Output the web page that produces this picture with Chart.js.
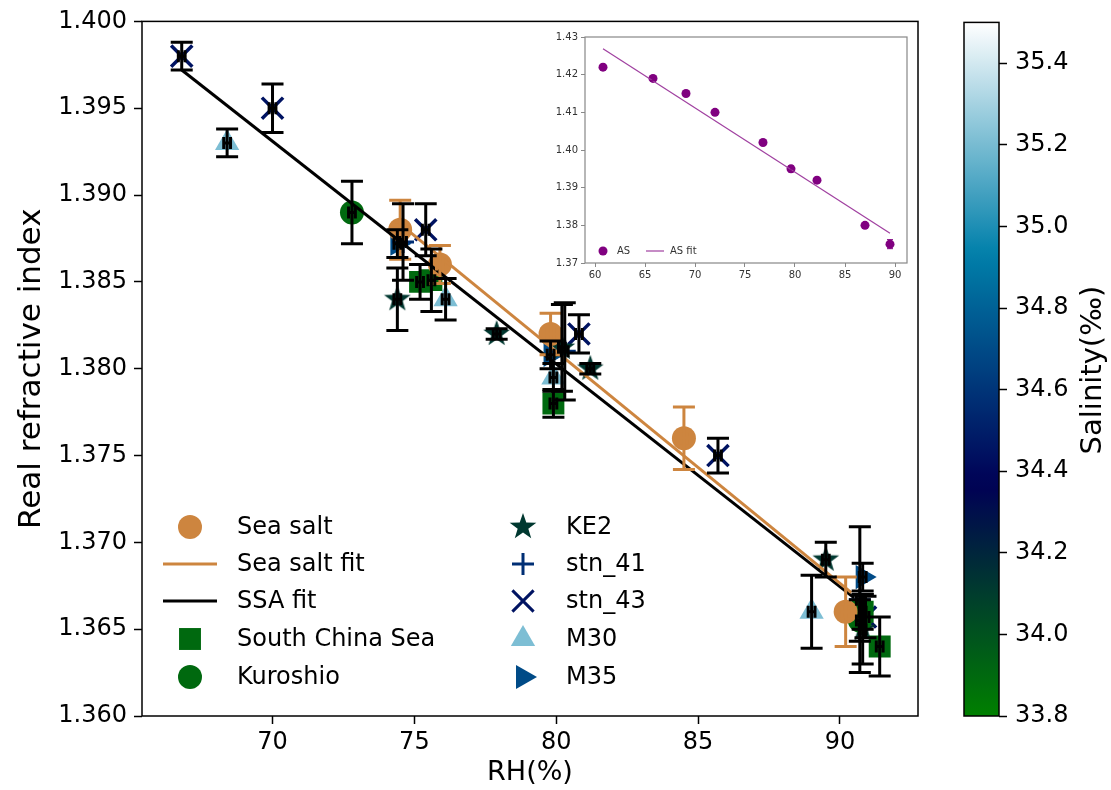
<!DOCTYPE html>
<html>
<head>
<meta charset="utf-8">
<script src="https://cdn.jsdelivr.net/npm/chart.js@4.4.0/dist/chart.umd.min.js"></script>
<style>
  body { margin: 0; background: #fff; }
  #wrap { position: relative; width: 1111px; height: 790px; }
  #wrap canvas { position: absolute; }
</style>
</head>
<body>
<div id="wrap">
  <canvas id="main" width="1111" height="790" style="left:0;top:0;width:1111px;height:790px"></canvas>
  <canvas id="inset" width="372" height="262" style="left:540px;top:28px;width:372px;height:262px"></canvas>
  <canvas id="cbar" width="171" height="790" style="left:940px;top:0;width:171px;height:790px"></canvas>
</div>
<script>
// ---- main plot data ----
const xTicks = [70, 75, 80, 85, 90];
const yTicks = [1.360, 1.365, 1.370, 1.375, 1.380, 1.385, 1.390, 1.395, 1.400];
const RH_ERR = 0.12;

const seaSaltRH  = [74.5, 75.9, 79.8, 84.5, 90.2];
const seaSaltN   = [1.3880, 1.3860, 1.3820, 1.3760, 1.3660];
const seaSaltErr = [0.0017, 0.0011, 0.0012, 0.0018, 0.0020];

const seaSaltFitRH = [74.6, 90.4];
const seaSaltFitN  = [1.3882, 1.3671];
const ssaFitRH = [66.8, 90.5];
const ssaFitN  = [1.3972, 1.3668];

const scsRH  = [75.2, 75.6, 79.9, 90.8, 91.4];
const scsN   = [1.3850, 1.3851, 1.3780, 1.3660, 1.3640];
const scsErr = [0.0010, 0.0018, 0.0008, 0.0010, 0.0017];

const kuroRH  = [72.8, 90.7];
const kuroN   = [1.3890, 1.3655];
const kuroErr = [0.0018, 0.0012];

const ke2RH  = [74.4, 77.9, 81.2, 89.5, 80.2, 90.8];
const ke2N   = [1.3840, 1.3820, 1.3800, 1.3690, 1.3812, 1.3650];
const ke2Err = [0.0018, 0.0003, 0.0003, 0.0010, 0.0025, 0.0020];

const stn41RH  = [74.6, 80.3, 90.7];
const stn41N   = [1.3873, 1.3810, 1.3667];
const stn41Err = [0.0022, 0.0028, 0.0042];

const stn43RH  = [66.8, 70.0, 75.4, 80.8, 85.7, 90.9];
const stn43N   = [1.3980, 1.3950, 1.3880, 1.3820, 1.3750, 1.3657];
const stn43Err = [0.0008, 0.0014, 0.0015, 0.0011, 0.0010, 0.0012];

const m30RH  = [68.4, 76.1, 79.9, 89.0];
const m30N   = [1.3930, 1.3840, 1.3795, 1.3660];
const m30Err = [0.0008, 0.0012, 0.0008, 0.0021];

const m35RH  = [74.4, 79.8, 90.8];
const m35N   = [1.3872, 1.3808, 1.3680];
const m35Err = [0.0008, 0.0008, 0.0008];

// salinity of each cruise, used for the marker colour (ocean colormap)
const salinity = { scs: 33.9, kuro: 33.9, ke2: 34.12, stn41: 34.57, stn43: 34.45, m30: 35.21, m35: 34.7 };
const cbTicks = [33.8, 34.0, 34.2, 34.4, 34.6, 34.8, 35.0, 35.2, 35.4];
const SAL_MIN = 33.8, SAL_MAX = 35.5;

// ---- inset data ----
const asRH  = [60.8, 65.8, 69.1, 72.0, 76.8, 79.6, 82.2, 87.0, 89.5];
const asN   = [1.422, 1.419, 1.415, 1.410, 1.402, 1.395, 1.392, 1.380, 1.375];
const asErr = [0.0007, 0.0005, 0.0008, 0.0006, 0.0006, 0.0008, 0.0006, 0.0004, 0.0012];
const asFitRH = [60.8, 89.5];
const asFitN  = [1.4269, 1.3779];
const insetXTicks = [60, 65, 70, 75, 80, 85, 90];
const insetYTicks = [1.37, 1.38, 1.39, 1.40, 1.41, 1.42, 1.43];

const FONT = 'DejaVu Sans';

// matplotlib "ocean" colormap
const ocean = (t) => {
    const c = v => Math.round(Math.max(0, Math.min(1, v)) * 255);
    return `rgb(${c(3 * t - 2)},${c(Math.abs((3 * t - 1) / 2))},${c(t)})`;
};
const salColor = s => ocean((s - SAL_MIN) / (SAL_MAX - SAL_MIN));

const makeStar = (color, size) => {
    const c = document.createElement('canvas');
    c.width = c.height = size;
    const g = c.getContext('2d');
    const R = size / 2, r = R * 0.4;
    g.beginPath();
    for (let i = 0; i < 10; i++) {
        const a = -Math.PI / 2 + i * Math.PI / 5;
        const rr = i % 2 === 0 ? R : r;
        g.lineTo(R + rr * Math.cos(a), R + rr * Math.sin(a));
    }
    g.closePath();
    g.fillStyle = color;
    g.fill();
    return c;
};

const pts = (xs, ys) => xs.map((x, i) => ({ x: x, y: ys[i] }));

const scatterSet = (label, xs, ys, errs, color, style, extra) => Object.assign({
    label: label,
    data: pts(xs, ys),
    errY: errs,
    errColor: '#000',
    pointStyle: style,
    pointRadius: 12,
    backgroundColor: color,
    borderColor: color,
    pointBorderWidth: 0,
    showLine: false,
    order: 1
}, extra || {});

const SEA = '#cd853f';
const datasets = [
    scatterSet('Sea salt', seaSaltRH, seaSaltN, seaSaltErr, SEA, 'circle', { errColor: SEA, pointRadius: 12 }),
    { label: 'Sea salt fit', type: 'line', data: pts(seaSaltFitRH, seaSaltFitN), borderColor: SEA, borderWidth: 3, pointRadius: 0, order: 0 },
    { label: 'SSA fit', type: 'line', data: pts(ssaFitRH, ssaFitN), borderColor: '#000', borderWidth: 3, pointRadius: 0, order: 0 },
    scatterSet('South China Sea', scsRH, scsN, scsErr, salColor(salinity.scs), 'rect', { pointRadius: 15.5 }),
    scatterSet('Kuroshio', kuroRH, kuroN, kuroErr, salColor(salinity.kuro), 'circle', { pointRadius: 12 }),
    scatterSet('KE2', ke2RH, ke2N, ke2Err, salColor(salinity.ke2), makeStar(salColor(salinity.ke2), 28)),
    scatterSet('stn_41', stn41RH, stn41N, stn41Err, salColor(salinity.stn41), 'cross', { pointRadius: 11, pointBorderWidth: 3 }),
    scatterSet('stn_43', stn43RH, stn43N, stn43Err, salColor(salinity.stn43), 'crossRot', { pointRadius: 15, pointBorderWidth: 3.5 }),
    scatterSet('M30', m30RH, m30N, m30Err, salColor(salinity.m30), 'triangle', { pointRadius: 14 }),
    scatterSet('M35', m35RH, m35N, m35Err, salColor(salinity.m35), 'triangle', { pointRadius: 14, pointRotation: 90 })
];

const drawMarker = (ctx, ds, x, y, radius) => {
    ctx.save();
    ctx.fillStyle = ds.backgroundColor;
    ctx.strokeStyle = ds.borderColor;
    const opts = { pointStyle: ds.pointStyle, radius: radius || ds.pointRadius, rotation: ds.pointRotation || 0, borderWidth: ds.pointBorderWidth || 0 };
    Chart.helpers.drawPoint(ctx, opts, x, y);
    ctx.restore();
};

/**
 * 誤差棒（縦・横）を描くプラグイン
 */
const errorBarPlugin = {
    id: 'errorBars',
    afterDatasetsDraw: (chart) => {
        const ctx = chart.ctx;
        const xs = chart.scales.x, ys = chart.scales.y;
        const cap = chart.options.plugins.errorBars;
        ctx.save();
        chart.data.datasets.forEach((ds) => {
            if (!ds.errY) return;
            ctx.strokeStyle = ds.errColor;
            ctx.lineWidth = cap.lineWidth;
            ds.data.forEach((p, i) => {
                const px = xs.getPixelForValue(p.x);
                const py = ys.getPixelForValue(p.y);
                const top = ys.getPixelForValue(p.y + ds.errY[i]);
                const bot = ys.getPixelForValue(p.y - ds.errY[i]);
                const lx = xs.getPixelForValue(p.x - cap.xErr);
                const rx = xs.getPixelForValue(p.x + cap.xErr);
                ctx.beginPath();
                ctx.moveTo(px, top); ctx.lineTo(px, bot);
                ctx.moveTo(px - cap.w, top); ctx.lineTo(px + cap.w, top);
                ctx.moveTo(px - cap.w, bot); ctx.lineTo(px + cap.w, bot);
                ctx.moveTo(lx, py); ctx.lineTo(rx, py);
                ctx.moveTo(lx, py - cap.h); ctx.lineTo(lx, py + cap.h);
                ctx.moveTo(rx, py - cap.h); ctx.lineTo(rx, py + cap.h);
                ctx.stroke();
            });
        });
        ctx.restore();
    }
};

const framePlugin = {
    id: 'frame',
    afterDraw: (chart) => {
        const a = chart.chartArea, ctx = chart.ctx;
        const o = chart.options.plugins.frame;
        ctx.save();
        ctx.strokeStyle = o.color;
        ctx.lineWidth = o.width;
        ctx.strokeRect(a.left, a.top, a.right - a.left, a.bottom - a.top);
        ctx.restore();
    }
};

const whiteBg = {
    id: 'whiteBg',
    beforeDraw: (chart) => {
        const ctx = chart.ctx;
        ctx.save();
        ctx.fillStyle = '#fff';
        ctx.fillRect(0, 0, chart.width, chart.height);
        ctx.restore();
    }
};

// 2 列の凡例
const legendLeft = ['Sea salt', 'Sea salt fit', 'SSA fit', 'South China Sea', 'Kuroshio'];
const legendRight = ['KE2', 'stn_41', 'stn_43', 'M30', 'M35'];
const legendPlugin = {
    id: 'twoColLegend',
    afterDraw: (chart) => {
        const ctx = chart.ctx;
        const cols = [{ names: legendLeft, mx: 190, tx: 237 }, { names: legendRight, mx: 523, tx: 566 }];
        const rows = [527, 564, 601, 639, 677];
        ctx.save();
        ctx.font = `24px "${FONT}"`;
        ctx.textBaseline = 'middle';
        ctx.fillStyle = '#000';
        cols.forEach(col => {
            col.names.forEach((name, r) => {
                const ds = chart.data.datasets.find(d => d.label === name);
                const y = rows[r];
                if (ds.type === 'line') {
                    ctx.strokeStyle = ds.borderColor;
                    ctx.lineWidth = 3;
                    ctx.beginPath();
                    ctx.moveTo(col.mx - 27, y); ctx.lineTo(col.mx + 27, y);
                    ctx.stroke();
                } else {
                    drawMarker(ctx, ds, col.mx, y, ds.pointRadius);
                }
                ctx.fillStyle = '#000';
                ctx.fillText(name, col.tx, y + 1);
            });
        });
        ctx.restore();
    }
};

new Chart(document.getElementById('main').getContext('2d'), {
    type: 'scatter',
    data: { datasets: datasets },
    plugins: [whiteBg, errorBarPlugin, framePlugin, legendPlugin],
    options: {
        responsive: false,
        animation: false,
        events: [],
        layout: { padding: { left: 0, right: 193, top: 21, bottom: 0 } },
        plugins: {
            legend: { display: false },
            tooltip: { enabled: false },
            errorBars: { lineWidth: 3, w: 11, h: 6, xErr: RH_ERR },
            frame: { color: '#000', width: 1.5 }
        },
        scales: {
            x: {
                type: 'linear', min: 65.4, max: 92.75,
                afterFit: s => { s.height = 74; },
                afterBuildTicks: s => { s.ticks = xTicks.map(v => ({ value: v })); },
                ticks: { font: { family: FONT, size: 24 }, color: '#000', padding: 4, maxRotation: 0 },
                grid: { drawOnChartArea: false, tickLength: 8, color: '#000', tickWidth: 1.5 },
                border: { display: false },
                title: { display: true, text: 'RH(%)', font: { family: FONT, size: 27 }, color: '#000', padding: { top: 0, bottom: 1 } }
            },
            y: {
                type: 'linear', min: 1.36, max: 1.40,
                afterFit: s => { s.width = 142; },
                afterBuildTicks: s => { s.ticks = yTicks.map(v => ({ value: v })); },
                ticks: { font: { family: FONT, size: 24 }, color: '#000', padding: 7, callback: v => v.toFixed(3) },
                grid: { drawOnChartArea: false, tickLength: 8, color: '#000', tickWidth: 1.5 },
                border: { display: false },
                title: { display: true, text: 'Real refractive index', font: { family: FONT, size: 31 }, color: '#000', padding: { top: 13, bottom: 0 } }
            }
        }
    }
});

// ---- inset ----
const PURPLE = '#800080';
const insetLegend = {
    id: 'insetLegend',
    afterDraw: (chart) => {
        const ctx = chart.ctx;
        const y = 223;
        ctx.save();
        ctx.fillStyle = PURPLE;
        ctx.beginPath();
        ctx.arc(63, y, 4.5, 0, Math.PI * 2);
        ctx.fill();
        ctx.font = `10px "${FONT}"`;
        ctx.textBaseline = 'middle';
        ctx.fillStyle = '#333';
        ctx.fillText('AS', 77, y);
        ctx.strokeStyle = '#a040a0';
        ctx.lineWidth = 1.2;
        ctx.beginPath();
        ctx.moveTo(106, y); ctx.lineTo(124, y);
        ctx.stroke();
        ctx.fillText('AS fit', 130, y);
        ctx.restore();
    }
};

new Chart(document.getElementById('inset').getContext('2d'), {
    type: 'scatter',
    data: {
        datasets: [
            { label: 'AS', data: pts(asRH, asN), errY: asErr, errColor: PURPLE, pointStyle: 'circle', pointRadius: 4.5, backgroundColor: PURPLE, borderColor: PURPLE, pointBorderWidth: 0, order: 1 },
            { label: 'AS fit', type: 'line', data: pts(asFitRH, asFitN), borderColor: '#a040a0', borderWidth: 1.2, pointRadius: 0, order: 0 }
        ]
    },
    plugins: [whiteBg, errorBarPlugin, framePlugin, insetLegend],
    options: {
        responsive: false,
        animation: false,
        events: [],
        layout: { padding: { left: 0, right: 5, top: 7, bottom: 0 } },
        plugins: {
            legend: { display: false },
            tooltip: { enabled: false },
            errorBars: { lineWidth: 1, w: 3, h: 0, xErr: 0 },
            frame: { color: '#888', width: 1.2 }
        },
        scales: {
            x: {
                type: 'linear', min: 59, max: 91.2,
                afterFit: s => { s.height = 27; },
                afterBuildTicks: s => { s.ticks = insetXTicks.map(v => ({ value: v })); },
                ticks: { font: { family: FONT, size: 10 }, color: '#333', padding: 2, maxRotation: 0 },
                grid: { drawOnChartArea: false, tickLength: 4, color: '#888' },
                border: { display: false }
            },
            y: {
                type: 'linear', min: 1.37, max: 1.43,
                afterFit: s => { s.width = 45; },
                afterBuildTicks: s => { s.ticks = insetYTicks.map(v => ({ value: v })); },
                ticks: { font: { family: FONT, size: 10 }, color: '#333', padding: 3, callback: v => v.toFixed(2) },
                grid: { drawOnChartArea: false, tickLength: 4, color: '#888' },
                border: { display: false }
            }
        }
    }
});

// ---- colour bar ----
const colorbarPlugin = {
    id: 'colorbar',
    beforeDatasetsDraw: (chart) => {
        const ctx = chart.ctx, a = chart.chartArea, ys = chart.scales.y;
        const y0 = ys.getPixelForValue(SAL_MIN), y1 = ys.getPixelForValue(SAL_MAX);
        const grad = ctx.createLinearGradient(0, y0, 0, y1);
        for (let i = 0; i <= 40; i++) grad.addColorStop(i / 40, ocean(i / 40));
        ctx.save();
        ctx.fillStyle = grad;
        ctx.fillRect(a.left, y1, a.right - a.left, y0 - y1);
        ctx.restore();
    },
    afterDraw: (chart) => {
        const ctx = chart.ctx;
        ctx.save();
        ctx.translate(153, 370);
        ctx.rotate(-Math.PI / 2);
        ctx.font = `29px "${FONT}"`;
        ctx.fillStyle = '#000';
        ctx.textAlign = 'center';
        ctx.textBaseline = 'middle';
        ctx.fillText('Salinity(‰)', 0, 0);
        ctx.restore();
    }
};

new Chart(document.getElementById('cbar').getContext('2d'), {
    type: 'scatter',
    data: { datasets: [] },
    plugins: [colorbarPlugin, framePlugin],
    options: {
        responsive: false,
        animation: false,
        events: [],
        layout: { padding: { left: 24, right: 0, top: 21, bottom: 74 } },
        plugins: {
            legend: { display: false },
            tooltip: { enabled: false },
            frame: { color: '#000', width: 1.5 }
        },
        scales: {
            x: { type: 'linear', display: false, min: 0, max: 1 },
            y: {
                type: 'linear', position: 'right', min: SAL_MIN, max: SAL_MAX,
                afterFit: s => { s.width = 112; },
                afterBuildTicks: s => { s.ticks = cbTicks.map(v => ({ value: v })); },
                ticks: { font: { family: FONT, size: 24 }, color: '#000', padding: 8, callback: v => v.toFixed(1) },
                grid: { drawOnChartArea: false, tickLength: 8, color: '#000', tickWidth: 1.5 },
                border: { display: false }
            }
        }
    }
});
</script>
</body>
</html>
